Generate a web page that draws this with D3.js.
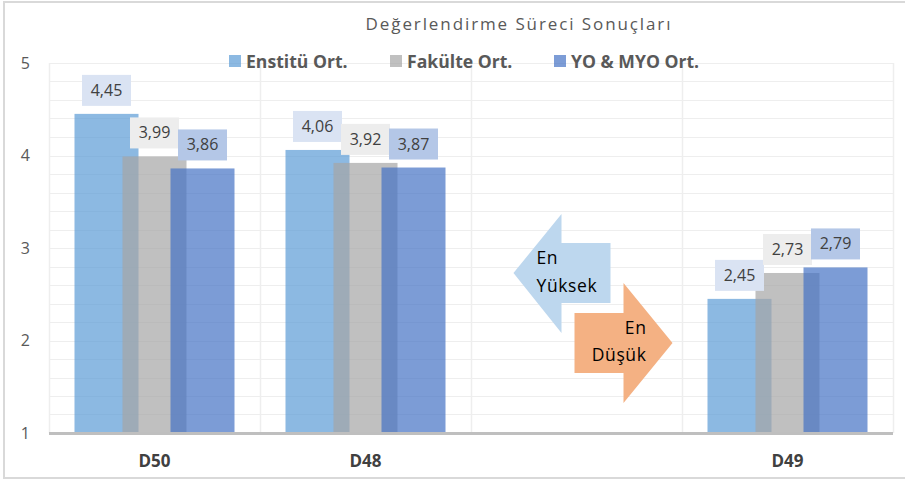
<!DOCTYPE html>
<html><head><meta charset="utf-8">
<script src="https://cdn.jsdelivr.net/npm/d3@7"></script>
<style>html,body{margin:0;padding:0;background:#fff;}svg{display:block;font-family:"Open Sans",sans-serif;}</style>
</head><body>
<svg id="c" width="905" height="481"></svg>
<script>
const categories = ["D50", "D48", "", "D49"];
const seriesNames = ["Enstitü Ort.", "Fakülte Ort.", "YO & MYO Ort."];
const enstitu = [4.45, 4.06, null, 2.45];
const fakulte = [3.99, 3.92, null, 2.73];
const yomyo = [3.86, 3.87, null, 2.79];
const yTicks = [1, 2, 3, 4, 5];
const title = "Değerlendirme Süreci Sonuçları";
const arrowHigh = ["En", "Yüksek"];
const arrowLow = ["En", "Düşük"];

const series = [enstitu, fakulte, yomyo];
const colors = ["#5b9bd5", "#a5a5a5", "#4472c4"];
const labelFills = ["#dae3f3", "#ededed", "#b4c7e7"];

const svg = d3.select("#c");
svg.append("rect").attr("x", 4).attr("y", 2).attr("width", 910).attr("height", 476)
  .attr("fill", "#fff").attr("stroke", "#d9d9d9").attr("stroke-width", 2);

const x = d3.scaleBand().domain(categories).range([49, 893]).padding(0);
const y = d3.scaleLinear().domain([1, 5]).range([433, 63]);

// horizontal gridlines every 0.2
const gridVals = d3.range(0, 21).map(i => 1 + i * 0.2);
svg.append("g").selectAll("line").data(gridVals).join("line")
  .attr("x1", 49).attr("x2", 893)
  .attr("y1", d => Math.round(y(d)) + 0.5).attr("y2", d => Math.round(y(d)) + 0.5)
  .attr("stroke", "#eeeeee").attr("stroke-width", 1);
// vertical gridlines at category boundaries
const vb = categories.map(c => x(c)).concat([x.range()[1]]);
svg.append("g").selectAll("line").data(vb).join("line")
  .attr("x1", d => Math.round(d) + 0.5).attr("x2", d => Math.round(d) + 0.5)
  .attr("y1", 63).attr("y2", 433)
  .attr("stroke", "#eeeeee").attr("stroke-width", 1.5);

// y tick labels
svg.append("g").selectAll("text").data(yTicks).join("text")
  .attr("x", 30).attr("y", d => y(d) + 5.5).attr("text-anchor", "end")
  .attr("font-size", 16).attr("fill", "#595959").text(d => d);

// bars
const barW = 64, step = 48;
const groupW = step * (series.length - 1) + barW;
const off = (x.bandwidth() - groupW) / 2;
series.forEach((vals, si) => {
  svg.append("g").selectAll("rect").data(categories.map((c, i) => ({c, v: vals[i]})).filter(d => d.v != null))
    .join("rect")
    .attr("x", d => x(d.c) + off + si * step)
    .attr("width", barW)
    .attr("y", d => y(d.v))
    .attr("height", d => y(1) - y(d.v))
    .attr("fill", colors[si]).attr("fill-opacity", 0.7);
});

// axis line
svg.append("line").attr("x1", 49).attr("x2", 893).attr("y1", y(1) + 0.5).attr("y2", y(1) + 0.5)
  .attr("stroke", "#bfbfbf").attr("stroke-width", 3);

// x labels
svg.append("g").selectAll("text").data(categories).join("text")
  .attr("x", d => x(d) + x.bandwidth() / 2).attr("y", 467)
  .attr("text-anchor", "middle").attr("font-size", 17).attr("font-weight", "bold")
  .attr("fill", "#404040").text(d => d);

// data labels
const fmt = v => v.toFixed(2).replace(".", ",");
series.forEach((vals, si) => {
  const g = svg.append("g").selectAll("g").data(categories.map((c, i) => ({c, v: vals[i]})).filter(d => d.v != null))
    .join("g")
    .attr("transform", d => `translate(${x(d.c) + off + si * step + barW / 2},${y(d.v) - 8})`);
  g.append("rect").attr("x", -24.5).attr("y", -31).attr("width", 49).attr("height", 31).attr("fill", labelFills[si]);
  g.append("text").attr("x", 0).attr("y", -10).attr("text-anchor", "middle")
    .attr("font-size", 16).attr("fill", "#404040").text(d => fmt(d.v));
});

// title
svg.append("text").attr("x", 519).attr("y", 30).attr("text-anchor", "middle")
  .attr("font-size", 17).attr("letter-spacing", 1.9).attr("fill", "#595959").text(title);

// legend
const legX = [229, 390, 554];
seriesNames.forEach((n, i) => {
  svg.append("rect").attr("x", legX[i]).attr("y", 55).attr("width", 12).attr("height", 12)
    .attr("fill", colors[i]).attr("fill-opacity", 0.7);
  svg.append("text").attr("x", legX[i] + 17).attr("y", 67.5).attr("font-size", 17.6).attr("font-weight", "bold")
    .attr("fill", "#595959").text(n);
});

// arrows anchored at the empty category center
const cx = x("") + x.bandwidth() / 2; // ~576.5
const a1 = [[cx - 63, 273], [cx - 15, 214], [cx - 15, 243], [cx + 34, 243], [cx + 34, 303], [cx - 15, 303], [cx - 15, 333]];
svg.append("path").attr("d", d3.line()(a1) + "Z").attr("fill", "#bdd7ee");
const a2 = [[cx - 2, 313], [cx + 47, 313], [cx + 47, 283], [cx + 96, 343], [cx + 47, 403], [cx + 47, 373], [cx - 2, 373]];
svg.append("path").attr("d", d3.line()(a2) + "Z").attr("fill", "#f4b183");
const at = {"font-size": 17.5, "letter-spacing": 0.6, fill: "#000"};
const addT = (xx, yy, t, anchor) => {
  const e = svg.append("text").attr("x", xx).attr("y", yy).attr("text-anchor", anchor).text(t);
  Object.entries(at).forEach(([k, v]) => e.attr(k, v));
};
addT(cx - 40, 264, arrowHigh[0], "start");
addT(cx - 40, 292, arrowHigh[1], "start");
addT(cx + 70, 334, arrowLow[0], "end");
addT(cx + 70, 361, arrowLow[1], "end");
</script>
</body></html>
